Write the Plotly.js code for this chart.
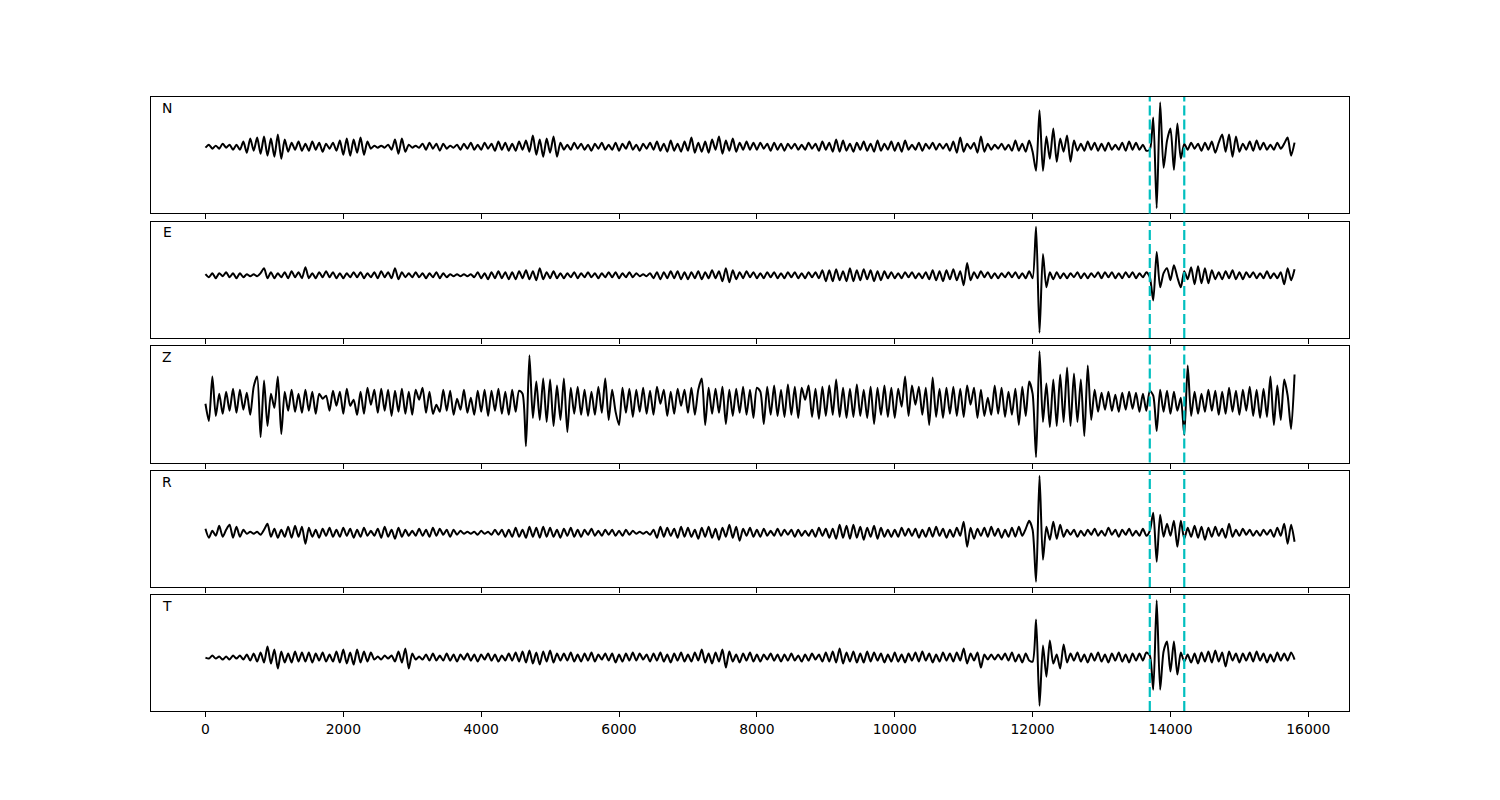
<!DOCTYPE html>
<html><head><meta charset="utf-8">
<script src="https://cdn.plot.ly/plotly-3.0.1.min.js"></script>
<style>body{margin:0;background:#fff}#chart{width:1500px;height:800px}</style>
</head><body><div id="chart"></div>
<script>
// sampling interval of the traces (x units)
const dt = 50;
const channels = ["N", "E", "Z", "R", "T"];
const markers = [13700, 14200];
const tickVals = [0, 2000, 4000, 6000, 8000, 10000, 12000, 14000, 16000];

const traceN = [-1,2,-2,1,-2,3,-1,2,-3,2,
-3,5,-6,8,-4,9,-7,10,-9,8,
-10,12,-12,7,-5,4,-3,5,-4,3,
-4,5,-3,4,-5,3,-2,4,-4,6,
-8,8,-9,7,-6,9,-8,5,-2,1,
-1,1,-1,2,-3,7,-7,8,-5,2,
-1,1,-1,3,-3,4,-2,3,-4,3,
-2,1,-1,2,-3,3,-2,4,-3,2,
-3,4,-2,3,-4,5,-3,4,-4,3,
-4,5,-3,6,-5,11,-8,7,-10,8,
-6,10,-10,4,-3,2,-3,4,-2,3,
-3,2,-4,3,-2,4,-3,2,-3,4,
-4,3,-2,5,-3,2,-4,3,-2,4,
-3,5,-4,3,-5,6,-4,3,-5,5,
-4,9,-6,4,-5,5,-6,7,-3,10,
-7,6,-4,8,-5,4,-3,5,-3,4,
-3,4,-2,3,-4,4,-3,3,-4,3,
-2,3,-3,2,-3,4,-2,3,-4,5,
-3,4,-5,7,-5,6,-4,3,-5,4,
-3,5,-4,3,-5,6,-4,3,-3,5,
-4,4,-5,6,-3,2,-3,4,-4,3,
-2,4,-3,3,-2,3,-4,5,-6,9,
-5,3,-2,4,-6,10,-5,3,-3,2,
-2,3,-3,2,-4,6,-4,3,-5,6,
-5,-24,36,-24,10,-12,18,-15,8,-5,
11,-15,6,-4,3,-4,5,-3,4,-4,
3,-4,4,-3,2,-3,4,-4,5,-3,
4,-3,2,-4,-3,29,-61,44,-21,6,
18,-23,23,-12,3,-3,4,-2,3,-4,
4,-3,5,-6,4,12,-5,12,-10,10,
-5,3,-3,5,-4,6,-3,4,-3,2,
-3,4,-2,3,9,-9,4];

const traceE = [1,-2,2,-3,2,-1,3,-2,2,-3,
2,-2,1,-1,1,-1,2,7,-3,3,
-3,2,-2,3,-3,4,-2,3,-3,8,
-3,2,-3,3,-2,4,-2,3,-3,2,
-3,2,-2,3,-2,3,-3,2,-2,3,
-3,4,-2,3,-3,7,-4,3,-2,2,
-2,3,-2,2,-3,2,-2,3,-3,2,
-2,1,-1,1,-1,1,-1,1,-2,3,
-3,2,-4,3,-3,4,-3,3,-4,3,
-4,4,-3,5,-4,4,-5,7,-4,3,
-3,4,-3,2,-3,2,-2,3,-3,2,
-2,3,-2,2,-3,2,-2,3,-2,3,
-3,2,-2,3,-2,2,-1,1,-1,2,
-3,3,-4,3,-3,4,-3,4,-4,3,
-4,3,-3,4,-4,3,-3,5,-3,4,
-6,7,-7,5,-4,3,-3,4,-2,3,
-3,2,-3,3,-2,3,-3,2,-3,3,
-2,3,-3,2,-3,3,-2,3,-3,5,
-6,5,-6,6,-5,4,-6,7,-6,5,
-5,6,-4,5,-6,4,-5,4,-3,3,
-3,2,-3,3,-2,3,-3,2,-3,3,
-4,5,-5,4,-6,5,-4,6,-5,4,
-10,12,-5,3,-3,4,-2,3,-3,2,
-3,2,-2,3,-2,3,-3,2,-3,4,
-3,48,-57,21,-12,3,-4,3,-3,2,
-3,2,-2,3,-3,2,-3,2,-2,3,
-3,3,-2,3,-3,2,-3,3,-2,3,
-3,2,-2,3,-2,-25,23,-12,2,7,
-5,10,-2,-12,4,-4,8,-9,9,-8,
7,-8,5,-4,3,-4,4,-3,5,-4,
3,-4,3,-2,3,-3,2,-3,4,-3,
2,-3,3,-9,7,-5,6];

const traceZ = [-2,-19,25,-14,8,-12,10,-9,13,-11,
12,-8,9,-13,15,25,-35,21,-24,8,
-6,25,-32,10,-9,12,-10,8,-11,12,
-9,10,-12,8,3,6,-9,11,-4,10,
-12,13,-4,2,-13,10,-12,14,-3,12,
-11,13,-9,12,-14,11,-10,13,-12,10,
-13,12,2,14,-11,10,-12,-3,-10,12,
-9,11,-13,3,-8,12,-11,4,-13,11,
-10,12,-14,11,-9,13,-12,10,-13,12,
-10,11,8,-44,46,-16,20,-18,23,-20,
22,-24,16,-18,23,-30,14,-12,15,-13,
12,-14,10,-13,15,-11,23,-18,12,-10,
-23,14,-11,13,-15,12,-10,14,-12,11,
-13,15,-2,12,-14,10,-12,13,-4,12,
-11,14,-13,12,23,-23,14,-12,13,-11,
15,-22,12,-14,13,-11,15,-13,12,-16,
14,10,-22,15,-13,16,-14,12,-15,17,
-13,15,-16,14,2,16,-15,13,-17,15,
-14,16,-13,22,-15,14,-16,13,-15,17,
-14,12,-16,15,-22,14,-13,16,-15,14,
-16,13,-5,25,-14,16,-3,15,-13,14,
-23,24,-15,13,-16,14,-12,15,-14,13,
-15,16,-3,14,-16,12,-14,4,-13,16,
-12,14,-15,10,-13,13,-23,15,-14,20,
8,-55,50,-20,18,-25,22,-24,27,-20,
34,-24,28,-20,22,-34,36,-18,12,-10,
9,-8,10,-9,7,-10,9,-8,10,-7,
9,-10,8,-9,11,6,-29,12,-10,11,
-12,10,-9,4,-33,36,-14,10,-12,8,
-10,12,-9,11,-13,10,-12,14,-10,11,
-13,12,-9,15,-14,12,-16,13,-15,25,
-23,16,-18,22,6,-27,27];

const traceR = [4,-5,2,-3,7,-4,3,8,-5,6,
-4,3,-1,1,-1,1,-2,3,9,-4,
4,-5,3,-4,6,-5,7,-4,6,-11,
5,-4,3,-5,4,-3,5,-4,3,-4,
5,-3,4,-5,3,-4,5,-3,2,-3,
4,-5,6,-4,3,-6,5,-4,3,-3,
2,-3,4,-3,3,-4,5,-3,4,-2,
3,-4,3,-2,2,-1,1,-1,1,-2,
2,-1,1,-2,3,-2,3,-4,3,-4,
5,-4,3,-5,6,-4,5,-5,6,-4,
5,-4,3,-5,4,-3,5,-4,3,-4,
3,-2,4,-3,2,-3,3,-2,3,-3,
2,-3,3,-2,2,-1,1,-1,1,-2,
3,-5,6,-4,5,-3,4,-5,6,-4,
5,-4,3,-6,5,-4,6,-5,4,-7,
5,-4,8,-5,6,-8,4,-3,5,-4,
3,-4,4,-3,2,-3,4,-3,3,-2,
3,-4,3,-3,2,-3,3,-4,5,-3,
4,-5,4,-6,8,-5,7,-6,8,-5,
6,-7,5,-4,7,-6,5,-4,3,-4,
3,-4,5,-3,4,-3,4,-5,3,-4,
5,-4,6,-3,4,-5,3,-4,5,-3,
11,-14,5,-6,4,-3,5,-4,6,-3,
4,-5,3,-4,5,-4,6,-3,4,12,
3,-49,57,-27,6,-7,11,-6,8,-4,
3,-2,3,-4,2,-3,3,-2,4,-3,
2,-3,5,-2,3,-4,3,-2,4,-3,
2,-3,4,-3,2,20,-29,18,-4,9,
-3,12,-14,12,-6,5,-4,7,-5,6,
-7,5,-4,6,-3,4,-5,9,-4,3,
-3,4,-2,3,-3,2,-3,3,-2,3,
-4,5,-3,9,-11,8,-9];

const traceT = [0,-1,2,-1,1,-2,1,-2,2,-1,
2,-2,3,-3,4,-4,5,-5,11,-6,
8,-11,6,-5,4,-5,6,-4,5,-4,
5,-5,4,-3,5,-4,3,-4,6,-5,
8,-6,5,-7,8,-5,6,-4,5,-2,
1,-2,2,-1,2,-4,6,-5,9,-11,
4,-2,1,-2,3,-3,4,-3,2,-3,
4,-3,3,-4,3,-2,4,-3,3,-4,
3,-2,4,-3,3,-4,2,-3,4,-3,
5,-4,6,-5,7,-6,5,-7,6,-4,
7,-5,4,-3,4,-3,5,-4,3,-4,
4,-3,5,-4,3,-2,4,-3,4,-5,
3,-4,4,-3,5,-3,4,-2,3,-4,
4,-3,5,-4,3,-5,4,-3,5,-4,
3,-4,5,-3,8,-5,4,-6,5,-4,
8,-10,6,-4,3,-5,4,-3,5,-4,
3,-4,3,-2,4,-3,3,-4,3,-3,
4,-3,2,-4,3,-3,4,-2,3,-4,
5,-4,6,-5,9,-6,5,-4,6,-5,
4,-5,6,-4,5,-3,4,-5,3,-4,
5,-4,3,-5,4,-3,5,-4,6,-3,
4,-5,3,-4,5,-3,4,-4,5,-3,
9,-6,4,-3,5,-10,3,-2,3,-2,
3,-2,4,-3,5,-4,3,-5,4,-3,
-4,38,-48,12,-19,17,-6,3,-11,13,
-5,4,-3,5,-4,3,-5,4,-3,5,
-4,3,-5,4,-3,5,-4,3,-5,4,
-3,4,-3,5,2,-32,57,-32,6,16,
-14,16,-17,5,-4,3,-5,4,-6,5,
-4,6,-5,7,-4,5,-9,6,-3,4,
-5,4,-3,5,-4,6,-3,4,-5,3,
-4,5,-3,4,-3,5,-2];

const series = [traceN, traceE, traceZ, traceR, traceT];

const fontBase = {family: "DejaVu Sans, sans-serif", size: 13.9, color: "#000"};
const H = 0.1897, STEP = 0.2028;
const data = [], shapes = [], annotations = [];
const layout = {
  width: 1500, height: 800,
  margin: {l: 151, r: 151, t: 97, b: 89},
  paper_bgcolor: "#fff", plot_bgcolor: "#fff",
  showlegend: false, font: fontBase
};

series.forEach((vals, k) => {
  const n = k + 1;
  const xs = vals.map((_, i) => i * dt);
  const ax = n === 1 ? "" : String(n);
  data.push({
    x: xs, y: vals, type: "scatter", mode: "lines",
    xaxis: "x" + ax, yaxis: "y" + ax,
    line: {color: "#000", width: 2, shape: "spline", smoothing: 0.7},
    hoverinfo: "skip"
  });
  const lo = Math.min(...vals), hi = Math.max(...vals);
  const pad = (hi - lo) * 0.05;
  const bottom = 1 - H - k * STEP;
  layout["xaxis" + ax] = {
    domain: [0, 1], anchor: "y" + ax, range: [-790, 16590],
    tickvals: tickVals, ticktext: tickVals.map(String),
    showticklabels: n === 5, ticks: "outside", ticklen: 5, tickwidth: 1, tickcolor: "#000",
    showline: true, mirror: true, linecolor: "#000", linewidth: 1,
    showgrid: false, zeroline: false, tickfont: fontBase,
    matches: n === 1 ? undefined : "x"
  };
  layout["yaxis" + ax] = {
    domain: [Math.max(0, bottom), Math.min(1, bottom + H)], anchor: "x" + ax,
    range: [lo - pad, hi + pad],
    showticklabels: false, ticks: "", showgrid: false, zeroline: false,
    showline: true, mirror: true, linecolor: "#000", linewidth: 1
  };
  annotations.push({
    text: channels[k], xref: "x" + ax + " domain", yref: "y" + ax + " domain",
    x: 0.0134, y: 0.906, xanchor: "center", yanchor: "middle",
    showarrow: false, font: fontBase
  });
  markers.forEach(m => {
    shapes.push({
      type: "line", xref: "x" + ax, yref: "y" + ax + " domain",
      x0: m, x1: m, y0: 0, y1: 1, layer: "above",
      line: {color: "#00bfbf", width: 2.2, dash: "10px,4px"}
    });
  });
});
layout.shapes = shapes;
layout.annotations = annotations;

Plotly.newPlot("chart", data, layout, {displayModeBar: false, staticPlot: true});
</script>
</body></html>
